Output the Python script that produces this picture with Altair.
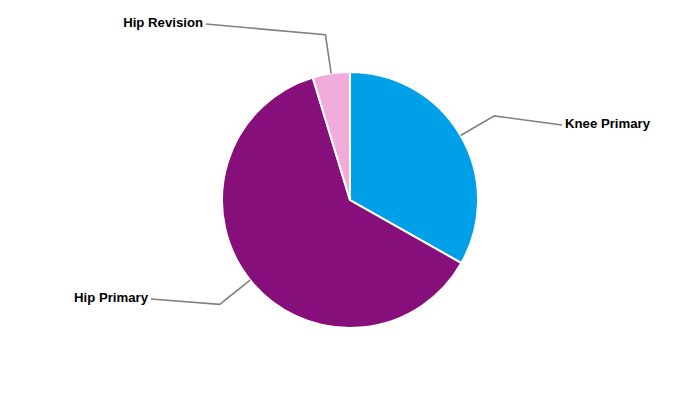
import altair as alt
import pandas as pd
import numpy as np

# ---- data ----
categories = ["Knee Primary", "Hip Primary", "Hip Revision"]
shares = [33.2, 62.1, 4.7]
colors = ["#00A0E9", "#860F7B", "#F1ABDB"]

# ---- layout (chart pixel coordinates) ----
W, H = 684, 384
CX, CY = 342, 192
R = 128
R_ELBOW = 167
# label anchor (x, y, align) per category
label_layout = {
    "Knee Primary": (557, 116, "left"),
    "Hip Primary": (140, 290, "right"),
    "Hip Revision": (195, 15, "right"),
}

total = sum(shares)
arc_rows, line_rows, text_rows = [], [], []
cum = 0.0
for i, (c, v) in enumerate(zip(categories, shares)):
    mid = (cum + v / 2) / total * 2 * np.pi
    cum += v
    arc_rows.append({"category": c, "share": v, "idx": i})
    lx, ly, al = label_layout[c]
    ex = lx - 3 if al == "left" else lx + 3
    pts = [
        (CX + R * np.sin(mid), CY - R * np.cos(mid)),
        (CX + R_ELBOW * np.sin(mid), CY - R_ELBOW * np.cos(mid)),
        (ex, ly + 1),
    ]
    for s, (px, py) in enumerate(pts):
        line_rows.append({"category": c, "x": px, "y": py, "step": s})
    text_rows.append({"category": c, "x": lx, "y": ly, "align": al})

arc_df = pd.DataFrame(arc_rows)
line_df = pd.DataFrame(line_rows)
text_df = pd.DataFrame(text_rows)

xs = alt.Scale(domain=[0, W], range=[0, W])
ys = alt.Scale(domain=[0, H], range=[0, H])

pie = alt.Chart(arc_df).mark_arc(radius=R, stroke="white", strokeWidth=2).encode(
    theta=alt.Theta("share:Q", stack=True),
    color=alt.Color("category:N", scale=alt.Scale(domain=categories, range=colors), legend=None),
    order=alt.Order("idx:Q"),
    x=alt.value(CX),
    y=alt.value(CY),
)

leaders = alt.Chart(line_df).mark_line(color="#808080", strokeWidth=1.6).encode(
    x=alt.X("x:Q", scale=xs, axis=None),
    y=alt.Y("y:Q", scale=ys, axis=None),
    detail="category:N",
    order="step:Q",
)

def labels(al):
    return alt.Chart(text_df).transform_filter(alt.datum.align == al).mark_text(
        align=al, baseline="middle", font="Liberation Sans", fontSize=13.2,
        fontWeight="bold", color="black",
    ).encode(
        x=alt.X("x:Q", scale=xs, axis=None),
        y=alt.Y("y:Q", scale=ys, axis=None),
        text="category:N",
    )

chart = alt.layer(pie, leaders, labels("left"), labels("right")).properties(
    width=W, height=H, padding=0, autosize=alt.AutoSizeParams(type="none")
).configure_view(stroke=None)

chart.save("out.html", embed_options={"renderer": "svg", "actions": False})
